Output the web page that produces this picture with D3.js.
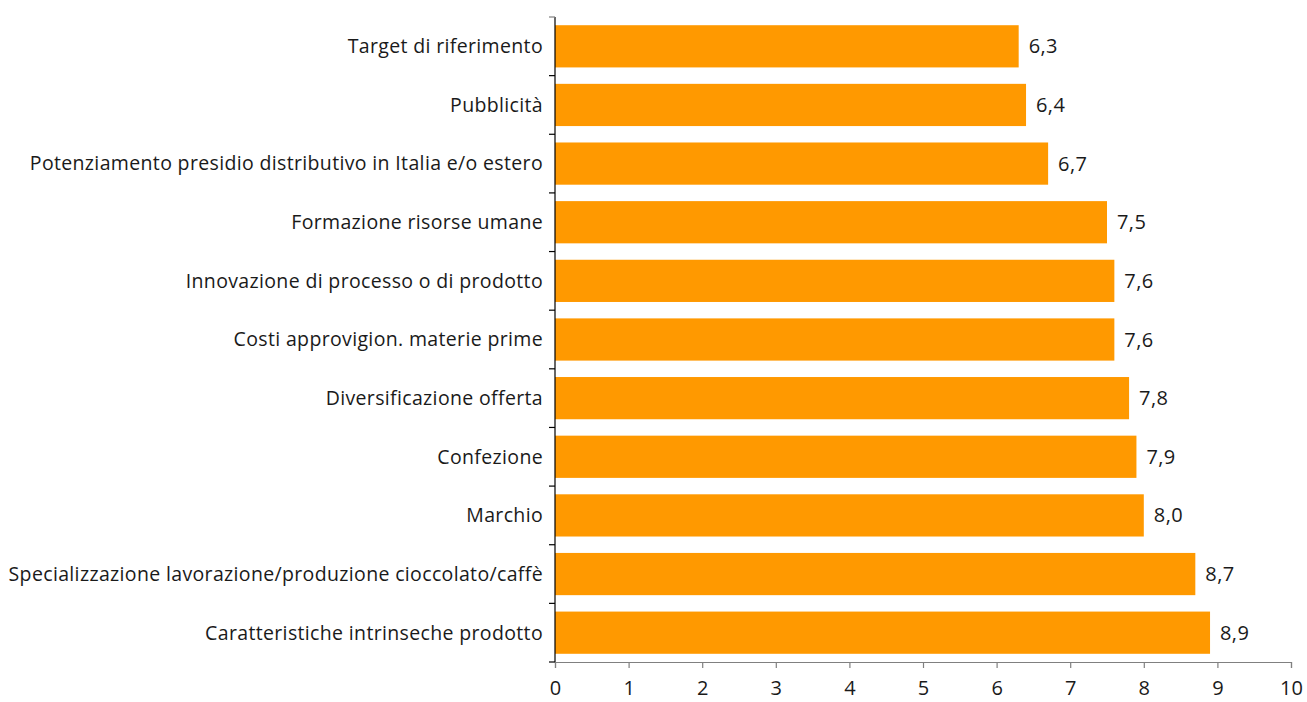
<!DOCTYPE html>
<html>
<head>
<meta charset="utf-8">
<script src="https://cdn.jsdelivr.net/npm/d3@7"></script>
<style>
  html, body { margin: 0; padding: 0; background: #fff; }
  svg { display: block; }
  text { font-family: "Open Sans", Lato, sans-serif; fill: #1a1a1a; }
</style>
</head>
<body>
<svg id="chart" width="1307" height="702"></svg>
<script>
// Categories listed top to bottom
const categories = [
  "Target di riferimento",
  "Pubblicità",
  "Potenziamento presidio distributivo in Italia e/o estero",
  "Formazione risorse umane",
  "Innovazione di processo o di prodotto",
  "Costi approvigion. materie prime",
  "Diversificazione offerta",
  "Confezione",
  "Marchio",
  "Specializzazione lavorazione/produzione cioccolato/caffè",
  "Caratteristiche intrinseche prodotto"
];
const values = [6.3, 6.4, 6.7, 7.5, 7.6, 7.6, 7.8, 7.9, 8.0, 8.7, 8.9];
const xTicks = [0, 1, 2, 3, 4, 5, 6, 7, 8, 9, 10];

const svg = d3.select("#chart");
const plotLeft = 555, plotRight = 1291, plotTop = 17, plotBottom = 662;

const x = d3.scaleLinear().domain([0, 10]).range([plotLeft, plotRight]);
const y = d3.scaleBand().domain(categories).range([plotTop, plotBottom])
  .paddingInner(0.28).paddingOuter(0.14);

// Bars
svg.append("g").selectAll("rect").data(values).join("rect")
  .attr("x", x(0))
  .attr("y", (d, i) => y(categories[i]))
  .attr("width", d => x(d) - x(0))
  .attr("height", y.bandwidth())
  .attr("fill", "#ff9900");

// Value labels
const fmt = d => d.toFixed(1).replace(".", ",");
svg.append("g").selectAll("text").data(values).join("text")
  .attr("x", d => x(d) + 10)
  .attr("y", (d, i) => y(categories[i]) + y.bandwidth() / 2)
  .attr("dy", "0.35em")
  .attr("font-size", 20)
  .attr("letter-spacing", 0.4)
  .text(fmt);

// X axis
const xAxis = svg.append("g").attr("transform", `translate(0,${plotBottom})`)
  .call(d3.axisBottom(x).tickValues(xTicks).tickSize(6).tickPadding(13).tickFormat(d3.format("d")));
xAxis.select(".domain").attr("stroke", "#808080").attr("stroke-width", 1.2);
xAxis.selectAll(".tick line").attr("stroke", "#808080").attr("stroke-width", 1.2);
xAxis.selectAll("text").attr("font-size", 20).attr("fill", "#1a1a1a").attr("font-family", "'Open Sans', Lato, sans-serif");

// Y axis line with ticks at category boundaries
const yg = svg.append("g");
yg.append("line").attr("x1", plotLeft).attr("x2", plotLeft).attr("y1", plotTop).attr("y2", plotBottom)
  .attr("stroke", "#000").attr("stroke-width", 1.2);
const step = y.step();
const bounds = d3.range(categories.length + 1).map(i => plotTop + i * step);
yg.selectAll("line.tk").data(bounds).join("line").attr("class", "tk")
  .attr("x1", plotLeft - 6).attr("x2", plotLeft).attr("y1", d => d).attr("y2", d => d)
  .attr("stroke", (d, i) => i === 0 ? "#808080" : "#000").attr("stroke-width", 1.2);

// Category labels
yg.selectAll("text").data(categories).join("text")
  .attr("x", plotLeft - 12)
  .attr("y", d => y(d) + y.bandwidth() / 2)
  .attr("dy", "0.35em")
  .attr("text-anchor", "end")
  .attr("font-size", 19.5)
  .attr("letter-spacing", 0.35)
  .text(d => d);
</script>
</body>
</html>
